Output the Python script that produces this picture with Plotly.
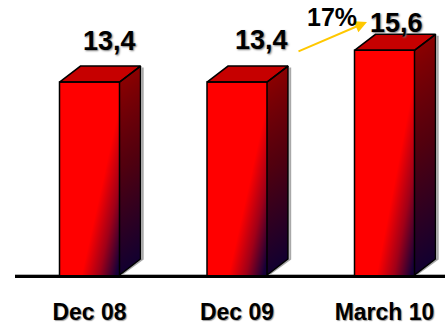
import numpy as np
import plotly.graph_objects as go

# ---- data ----
categories = ["Dec 08", "Dec 09", "March 10"]
values = [13.4, 13.4, 15.6]
value_labels = ["13,4", "13,4", "15,6"]
growth_label = "17%"

# ---- style constants ----
PX_X = 147.5          # pixels per x unit
PX_Y = 14.4           # pixels per y unit
HW = 30 / PX_X        # half width of front face
DX = 21 / PX_X        # depth offset x
DY = 16 / PX_Y        # depth offset y
label_shift = [(20, 41), (24, 42), (12, 27)]   # px offsets of value labels (style)

FRONT_SCALE = [[0, "#ff0000"], [0.5, "#a00018"], [1, "#160038"]]
SIDE_SCALE = [[0, "#8c0000"], [0.5, "#52000e"], [1, "#120030"]]
TOP_COLOR = "#c60000"

fig = go.Figure()

for i, v in enumerate(values):
    xl, xr = i - HW, i + HW
    # front face gradient (diagonal)
    nx, ny = 60, int(v * PX_Y)
    xe = np.linspace(xl, xr, nx + 1)
    ye = np.linspace(0, v, ny + 1)
    u = (np.arange(nx) + 0.5) / nx
    w = (np.arange(ny) + 0.5) / ny
    U, W = np.meshgrid(u, w)
    Z = np.clip((U - 0.36 - 0.72 * W) / 0.58, 0, 1)
    fig.add_trace(go.Heatmap(x=xe, y=ye, z=Z, colorscale=FRONT_SCALE, zmin=0, zmax=1,
                             showscale=False, hoverinfo="skip", zsmooth=False))
    # side face gradient (parallelogram)
    sx = 21
    sy = int((v + DY) * PX_Y)
    xe2 = np.linspace(xr, xr + DX, sx + 1)
    ye2 = np.linspace(0, v + DY, sy + 1)
    t = (np.arange(sx) + 0.5) / sx
    yc = (ye2[:-1] + ye2[1:]) / 2
    T, Y = np.meshgrid(t, yc)
    s = (Y - T * DY) / v
    Z2 = np.where((s >= 0) & (s <= 1), np.clip(1 - s, 0, 1) ** 0.85, np.nan)
    fig.add_trace(go.Heatmap(x=xe2, y=ye2, z=Z2, colorscale=SIDE_SCALE, zmin=0, zmax=1,
                             showscale=False, hoverinfo="skip", zsmooth=False))
    # top face
    fig.add_trace(go.Scatter(x=[xl, xl + DX, xr + DX, xr, xl], y=[v, v + DY, v + DY, v, v],
                             mode="lines", fill="toself", fillcolor=TOP_COLOR,
                             line=dict(color="black", width=1.5), hoverinfo="skip"))
    # gray shadow of side
    g = 2.2 / PX_X
    fig.add_trace(go.Scatter(x=[xr + g, xr + DX + g, xr + DX + g],
                             y=[0.05, DY, v + DY - 0.1],
                             mode="lines", line=dict(color="#a8a8a8", width=2), hoverinfo="skip"))
    # outlines
    fig.add_trace(go.Scatter(x=[xl, xl, xr, xr, xr + DX, xr + DX, xr],
                             y=[0, v, v, 0, DY, v + DY, v],
                             mode="lines", line=dict(color="black", width=1.5), hoverinfo="skip"))

annotations = []
for i, (v, lab) in enumerate(zip(values, value_labels)):
    sx_, sy_ = label_shift[i]
    annotations.append(dict(x=i, y=v, text=lab, showarrow=False, xshift=sx_, yshift=sy_,
                            font=dict(family="Liberation Sans", size=27, color="black",
                                      weight="bold", shadow="1px 1px 2px #777")))
# growth arrow between Dec 09 and March 10
annotations.append(dict(x=(367 - 89.5) / PX_X, y=(275 - 22) / PX_Y,
                        ax=(297 - 89.5) / PX_X, ay=(275 - 52) / PX_Y,
                        xref="x", yref="y", axref="x", ayref="y", text="",
                        showarrow=True, arrowhead=2, arrowsize=1.2, arrowwidth=2,
                        arrowcolor="#ffc800"))
annotations.append(dict(x=(332 - 89.5) / PX_X, y=(275 - 17) / PX_Y, text=growth_label,
                        showarrow=False,
                        font=dict(family="Liberation Sans", size=25, color="black",
                                  weight="bold")))

fig.update_layout(
    width=445, height=326,
    margin=dict(l=15, r=0, t=0, b=51),
    paper_bgcolor="white", plot_bgcolor="white",
    showlegend=False,
    annotations=annotations,
    xaxis=dict(range=[-(89.5 - 15) / PX_X, (445 - 89.5) / PX_X], tickvals=[0, 1, 2],
               ticktext=categories, showgrid=False, zeroline=False,
               showline=True, linecolor="black", linewidth=3, ticks="",
               ticklabelstandoff=14,
               tickfont=dict(family="Liberation Sans", size=23, color="black", weight="bold",
                             shadow="1px 1px 1px #999")),
    yaxis=dict(range=[0, 275 / PX_Y], visible=False),
    shapes=[dict(type="line", xref="paper", yref="paper", x0=0, x1=1, y0=0, y1=0,
                 ysizemode="pixel", yanchor=0, line=dict(color="#999999", width=1.5),
                 layer="below")],
)

fig.write_html("out.html")
